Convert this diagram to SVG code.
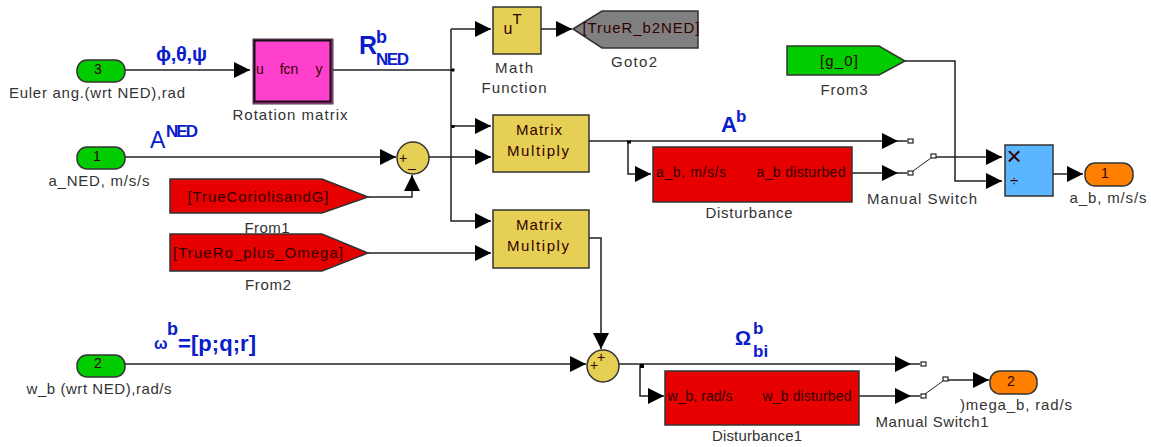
<svg xmlns="http://www.w3.org/2000/svg" width="1151" height="447" viewBox="0 0 1151 447">
<defs>
<marker id="a" markerUnits="userSpaceOnUse" markerWidth="16" markerHeight="16" refX="16" refY="8" orient="auto"><path d="M0 0L16 8L0 16z" fill="#000"/></marker>
</defs>
<style>
text{font-family:"Liberation Sans",Arial,sans-serif}
.l{font-size:15px;fill:#333;text-anchor:middle}
.i{font-size:15px;fill:#300;text-anchor:middle}
.s{font-size:14px;fill:#300;text-anchor:middle}
.b{font-weight:bold;fill:#0a1ccc}
.c{fill:none;stroke:#222;stroke-width:1.5}
.n{stroke:#333;stroke-width:1.5}
.p{fill:#fff;stroke:#222;stroke-width:1.2}
</style>
<rect width="1151" height="447" fill="#fff"/>
<g id="connectors" class="c">
<path d="M125 70H250" marker-end="url(#a)"/>
<path d="M333 70H453"/>
<path d="M125 157H396" marker-end="url(#a)"/>
<path d="M368 197H412V175" marker-end="url(#a)"/>
<path d="M429 157H491" marker-end="url(#a)"/>
<path d="M451 29H491" marker-end="url(#a)"/>
<path d="M451 29V221H491" marker-end="url(#a)"/>
<path d="M451 126H491" marker-end="url(#a)"/>
<path d="M541 29H572" marker-end="url(#a)"/>
<path d="M368 253H491" marker-end="url(#a)"/>
<path d="M589 141H898" marker-end="url(#a)"/>
<path d="M898 141H907"/>
<path d="M628 142V174H651" marker-end="url(#a)"/>
<path d="M852 173H898" marker-end="url(#a)"/>
<path d="M898 173H907"/>
<path d="M913 171L931 158" stroke-width="1"/>
<path d="M936 157H1002" marker-end="url(#a)"/>
<path d="M905 61H955V181H1002" marker-end="url(#a)"/>
<path d="M1053 174H1083" marker-end="url(#a)"/>
<path d="M589 238H601V349" marker-end="url(#a)"/>
<path d="M125 364H586" marker-end="url(#a)"/>
<path d="M619 364H911" marker-end="url(#a)"/>
<path d="M911 364H920"/>
<path d="M640 365V396H664" marker-end="url(#a)"/>
<path d="M859 396H911" marker-end="url(#a)"/>
<path d="M911 396H920"/>
<path d="M925 394L943 381" stroke-width="1"/>
<path d="M948 380H989" marker-end="url(#a)"/>
<rect x="451.500" y="68.500" width="3" height="3" fill="#000" stroke="none"/>
<rect x="451.500" y="125" width="3" height="3" fill="#000" stroke="none"/>
<rect x="627" y="140.500" width="4" height="3" fill="#000" stroke="none"/>
<rect x="640" y="364" width="4" height="4" fill="#000" stroke="none"/>
</g>
<g id="in3"><rect class="n" x="77" y="60" width="48" height="22" rx="10" fill="#00cc00"/><text class="s" x="98" y="74">3</text><text class="l" x="97" y="98" textLength="176">Euler ang.(wrt NED),rad</text></g>
<g id="in1"><rect class="n" x="77" y="147" width="48" height="22" rx="10" fill="#00cc00"/><text class="s" x="97" y="161">1</text><text class="l" x="99" y="186" textLength="101">a_NED, m/s/s</text></g>
<g id="in2"><rect class="n" x="77" y="355" width="48" height="22" rx="10" fill="#00cc00"/><text class="s" x="98" y="368">2</text><text class="l" x="99" y="394" textLength="145">w_b (wrt NED),rad/s</text></g>
<g id="rotation"><rect x="253" y="39" width="80" height="65" fill="#c22f9b" stroke="#444" stroke-width="1"/><rect x="254.500" y="40.500" width="76" height="61" fill="#ff40cc" stroke="#111" stroke-width="2"/>
<text class="s" x="260" y="74">u</text><text class="s" x="289" y="74">fcn</text><text class="s" x="319" y="74">y</text><text class="l" x="290" y="120" textLength="115">Rotation matrix</text></g>
<g id="math"><rect class="n" x="493" y="7" width="48" height="47" fill="#e6cf55"/><text class="s" x="508" y="34" style="font-size:16px">u</text><text class="s" x="517" y="24" style="font-size:15px">T</text><text class="l" x="514" y="73" textLength="38">Math</text><text class="l" x="514" y="93" textLength="65">Function</text></g>
<g id="goto2"><path class="n" d="M573 29L602 11H698V48H602z" fill="#808080"/><text class="i" x="641" y="33" textLength="117">[TrueR_b2NED]</text><text class="l" x="634" y="67" textLength="46">Goto2</text></g>
<g id="sum1"><circle class="n" cx="413" cy="158" r="16" fill="#e6cf55"/><text class="s" x="403" y="163">+</text><text class="s" x="412" y="167">_</text></g>
<g id="from1"><path class="n" d="M170 179H322L368 197L322 213H170z" fill="#e60000"/><text class="i" x="258" y="202" textLength="141">[TrueCoriolisandG]</text><text class="l" x="267" y="233" textLength="45">From1</text></g>
<g id="from2"><path class="n" d="M170 234H322L368 253L322 271H170z" fill="#e60000"/><text class="i" x="258" y="258" textLength="170">[TrueRo_plus_Omega]</text><text class="l" x="268" y="290" textLength="46">From2</text></g>
<g id="mm1"><rect class="n" x="493" y="115" width="96" height="57" fill="#e6cf55"/><text class="i" x="539" y="135" textLength="46">Matrix</text><text class="i" x="538" y="156" textLength="62">Multiply</text></g>
<g id="mm2"><rect class="n" x="493" y="210" width="96" height="58" fill="#e6cf55"/><text class="i" x="539" y="230" textLength="46">Matrix</text><text class="i" x="538" y="251" textLength="62">Multiply</text></g>
<g id="disturbance"><rect class="n" x="653" y="147" width="199" height="55" fill="#e60000"/><text class="s" x="691" y="177" textLength="70">a_b, m/s/s</text><text class="s" x="801" y="177" textLength="89">a_b disturbed</text><text class="l" x="749" y="218" textLength="87">Disturbance</text></g>
<g id="switch"><rect class="p" x="908" y="139" width="5" height="4"/><rect class="p" x="908" y="171" width="5" height="4"/><rect class="p" x="931" y="154" width="5" height="4"/><text class="l" x="922" y="204" textLength="110">Manual Switch</text></g>
<g id="from3"><path class="n" d="M787 46H879L905 61L879 75H787z" fill="#00cc00"/><text class="s" x="839" y="66" style="font-size:15px" textLength="38">[g_0]</text><text class="l" x="844" y="95" textLength="47">From3</text></g>
<g id="product"><rect class="n" x="1005" y="145" width="48" height="51" fill="#5cb5ff"/><text class="s" x="1014" y="165" style="font-size:26px">×</text><text class="s" x="1014" y="186" style="font-size:15px">÷</text></g>
<g id="out1"><rect class="n" x="1085" y="163" width="48" height="23" rx="10" fill="#ff8000"/><text class="s" x="1105" y="178">1</text><text class="l" x="1108" y="203" textLength="77">a_b, m/s/s</text></g>
<g id="sum2"><circle class="n" cx="603" cy="366" r="16" fill="#e6cf55"/><text class="s" x="594" y="370">+</text><text class="s" x="601" y="362">+</text></g>
<g id="disturbance1"><rect class="n" x="665" y="371" width="194" height="54" fill="#e60000"/><text class="s" x="700" y="401" textLength="65">w_b, rad/s</text><text class="s" x="807" y="401" textLength="89">w_b disturbed</text><text class="l" x="757" y="441" textLength="90">Disturbance1</text></g>
<g id="switch1"><rect class="p" x="921" y="362" width="5" height="4"/><rect class="p" x="921" y="394" width="5" height="4"/><rect class="p" x="943" y="377" width="5" height="4"/><text class="l" x="932" y="427" textLength="113">Manual Switch1</text></g>
<g id="out2"><rect class="n" x="990" y="371" width="47" height="23" rx="10" fill="#ff8000"/><text class="s" x="1011" y="386">2</text><text class="l" x="1016" y="410" textLength="112">)mega_b, rad/s</text></g>
<g id="labels">
<text class="b" x="156" y="61" style="font-size:20px" textLength="51">ϕ,θ,ψ</text>
<text class="b" x="359" y="54" style="font-size:25px">R</text><text class="b" x="376" y="43" style="font-size:18px">b</text><text class="b" x="376" y="65" style="font-size:17px" textLength="33">NED</text>
<text class="b" x="150" y="148" style="font-size:23px;font-weight:normal">A</text><text class="b" x="166" y="137" style="font-size:17px" textLength="32">NED</text>
<text class="b" x="721" y="132" style="font-size:22px">A</text><text class="b" x="736" y="122" style="font-size:17px">b</text>
<text class="b" x="735" y="345" style="font-size:20px">Ω</text><text class="b" x="753" y="334" style="font-size:17px">b</text><text class="b" x="753" y="357" style="font-size:17px">bi</text>
<text class="b" x="154" y="349" style="font-size:16px">ω</text><text class="b" x="167" y="335" style="font-size:18px">b</text><text class="b" x="178" y="351" style="font-size:22px" textLength="78">=[p;q;r]</text>
</g>
</svg>
